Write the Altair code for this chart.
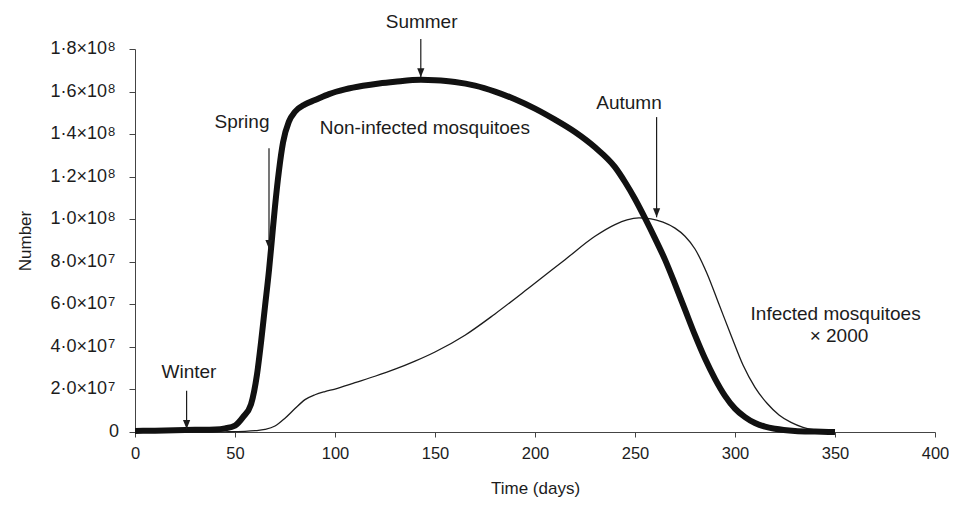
import altair as alt
import pandas as pd

# ---- data (values in units of 1e7) ----
days_noninf = [0, 10, 20, 30, 40, 45, 50, 54, 58, 61, 63, 65, 67, 68.5, 70, 72, 74, 77, 80, 85,
               90, 97, 105, 114, 122, 130, 143, 150, 160, 170, 180, 190, 200, 210, 220, 230,
               240, 245, 250, 255, 260, 265, 270, 275, 280, 285, 290, 295, 300, 305, 310, 315,
               320, 330, 340, 350]
values_noninf = [0.05, 0.06, 0.08, 0.1, 0.12, 0.17, 0.3, 0.7, 1.3, 2.7, 4.2, 5.9, 7.6, 9.1, 10.6,
                 12.3, 13.6, 14.6, 15.05, 15.4, 15.6, 15.88, 16.1, 16.27, 16.38, 16.46, 16.55,
                 16.53, 16.45, 16.28, 16.0, 15.64, 15.2, 14.68, 14.1, 13.38, 12.45, 11.75,
                 10.95, 10.05, 9.1, 8.1, 6.95, 5.75, 4.55, 3.45, 2.5, 1.7, 1.1, 0.7, 0.42, 0.25,
                 0.15, 0.05, 0.02, 0.0]

days_inf = [0, 30, 45, 55, 60, 65, 70, 75, 80, 85, 90, 95, 100, 110, 120, 130, 140, 150, 165,
            180, 198, 215, 230, 240, 246, 252, 258, 264, 270, 275, 280, 286, 292, 298, 304, 310,
            316, 322, 328, 334, 340, 350]
values_inf = [0.0, 0.0, 0.01, 0.03, 0.06, 0.12, 0.28, 0.65, 1.1, 1.52, 1.75, 1.9, 2.02, 2.32,
              2.62, 2.95, 3.33, 3.76, 4.55, 5.55, 6.85, 8.1, 9.2, 9.75, 9.97, 10.06, 10.02, 9.86,
              9.58, 9.2, 8.6, 7.45, 6.0, 4.55, 3.15, 2.1, 1.35, 0.8, 0.45, 0.22, 0.1, 0.0]

x_ticks = [0, 50, 100, 150, 200, 250, 300, 350, 400]
y_tick_values = [0, 2e7, 4e7, 6e7, 8e7, 1e8, 1.2e8, 1.4e8, 1.6e8, 1.8e8]
y_tick_labels = ["0", "2·0×10", "4·0×10", "6·0×10", "8·0×10",
                 "1·0×10", "1·2×10", "1·4×10", "1·6×10", "1·8×10"]
y_tick_exponents = ["", "7", "7", "7", "7", "8", "8", "8", "8", "8"]

ann_texts = ["Winter", "Spring", "Summer", "Autumn", "Non-infected mosquitoes",
             "Infected mosquitoes", "× 2000"]
ann_days = [27, 53.5, 143.3, 247, 144.9, 350.3, 352]
ann_values = [2.8, 14.58, 19.25, 15.46, 14.27, 5.54, 4.49]

arrow_days = [25.8, 67, 142.9, 260.8]
arrow_tops = [1.94, 13.33, 18.47, 14.8]
arrow_tips = [0.14, 8.6, 16.67, 10.09]

E7 = 1e7
FONT = "Liberation Sans"
INK = "#1c1c1c"

df_non = pd.DataFrame({"day": days_noninf, "n": [v * E7 for v in values_noninf]})
df_inf = pd.DataFrame({"day": days_inf, "n": [v * E7 for v in values_inf]})
df_ann = pd.DataFrame({"day": ann_days, "n": [v * E7 for v in ann_values], "t": ann_texts})
df_arr = pd.DataFrame({"day": arrow_days,
                       "top": [v * E7 for v in arrow_tops],
                       "tip": [v * E7 for v in arrow_tips]})
df_ylab = pd.DataFrame({"v": y_tick_values, "lab": y_tick_labels, "ex": y_tick_exponents})

x_scale = alt.Scale(domain=[0, 400], nice=False, zero=False)
y_scale = alt.Scale(domain=[0, 1.8e8], nice=False)

x_axis = alt.Axis(values=x_ticks, title="Time (days)", grid=False, tickSize=5,
                  labelPadding=8, labelFontSize=16.5, labelFont=FONT, labelColor=INK,
                  titleFont=FONT, titleFontSize=17, titleFontWeight="normal", titleColor=INK,
                  titleX=400, titleY=56, titleBaseline="middle", titleAlign="center",
                  domainColor="#444", tickColor="#444", labelFlush=False)
y_axis = alt.Axis(values=y_tick_values, labels=False, title="Number", grid=False,
                  tickSize=6, titleFont=FONT, titleFontSize=17,
                  titleFontWeight="normal", titleColor=INK, titleAngle=-90,
                  titleX=-110, titleY=191.5, titleBaseline="middle", titleAlign="center",
                  domainColor="#444", tickColor="#444")

inf_line = alt.Chart(df_inf).mark_line(color=INK, strokeWidth=1.3,
                                       interpolate="monotone").encode(
    x=alt.X("day:Q", scale=x_scale, axis=x_axis),
    y=alt.Y("n:Q", scale=y_scale, axis=y_axis),
)
non_line = alt.Chart(df_non).mark_line(color="#111", strokeWidth=6,
                                       interpolate="monotone").encode(
    x=alt.X("day:Q", scale=x_scale),
    y=alt.Y("n:Q", scale=y_scale),
)
texts = alt.Chart(df_ann).mark_text(font=FONT, fontSize=19, color=INK, align="center",
                                    baseline="middle").encode(
    x=alt.X("day:Q", scale=x_scale),
    y=alt.Y("n:Q", scale=y_scale),
    text="t:N",
)
rules = alt.Chart(df_arr).mark_rule(color=INK, strokeWidth=1.2).encode(
    x=alt.X("day:Q", scale=x_scale),
    y=alt.Y("top:Q", scale=y_scale),
    y2="tip:Q",
)
heads = alt.Chart(df_arr).mark_point(shape="M-0.8,-2L0.8,-2L0,0Z", size=81, filled=True,
                                     opacity=1, color=INK, strokeWidth=0).encode(
    x=alt.X("day:Q", scale=x_scale),
    y=alt.Y("tip:Q", scale=y_scale),
)

# y tick labels with real superscript exponents
ylab_main = alt.Chart(df_ylab).transform_filter("datum.ex != ''").mark_text(
    font=FONT, fontSize=18, color=INK, align="right", baseline="middle").encode(
    x=alt.value(-28),
    y=alt.Y("v:Q", scale=y_scale),
    text="lab:N",
)
ylab_exp = alt.Chart(df_ylab).transform_filter("datum.ex != ''").mark_text(
    font=FONT, fontSize=13, color=INK, align="left", baseline="alphabetic", dy=1.5).encode(
    x=alt.value(-27),
    y=alt.Y("v:Q", scale=y_scale),
    text="ex:N",
)
ylab_zero = alt.Chart(df_ylab).transform_filter("datum.ex == ''").mark_text(
    font=FONT, fontSize=18, color=INK, align="right", baseline="middle").encode(
    x=alt.value(-16),
    y=alt.Y("v:Q", scale=y_scale),
    text="lab:N",
)

chart = alt.layer(inf_line, non_line, rules, heads, texts,
                  ylab_main, ylab_exp, ylab_zero).properties(
    width=800, height=383,
    autosize=alt.AutoSizeParams(type="none"),
    padding={"left": 127, "top": 41, "right": 14, "bottom": 65},
    background="white",
).configure_view(stroke=None)

chart.save("out.html", embed_options={"renderer": "svg", "actions": False})
